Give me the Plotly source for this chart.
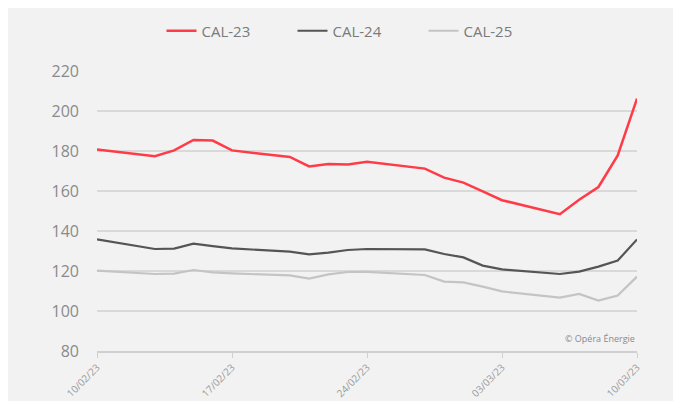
import plotly.graph_objects as go

dates = ["2023-02-10", "2023-02-13", "2023-02-14", "2023-02-15", "2023-02-16", "2023-02-17",
         "2023-02-20", "2023-02-21", "2023-02-22", "2023-02-23", "2023-02-24",
         "2023-02-27", "2023-02-28", "2023-03-01", "2023-03-02", "2023-03-03",
         "2023-03-06", "2023-03-07", "2023-03-08", "2023-03-09", "2023-03-10"]

cal23 = [180.7, 177.4, 180.3, 185.5, 185.2, 180.3,
         177.0, 172.3, 173.5, 173.3, 174.6,
         171.2, 166.7, 164.2, 159.8, 155.4,
         148.4, 155.6, 162.0, 177.8, 206.2]

cal24 = [135.8, 131.0, 131.2, 133.7, 132.4, 131.3,
         129.7, 128.3, 129.2, 130.5, 131.0,
         130.8, 128.5, 126.8, 122.7, 120.8,
         118.5, 119.7, 122.2, 125.2, 135.8]

cal25 = [120.2, 118.5, 118.7, 120.5, 119.3, 118.8,
         117.8, 116.2, 118.3, 119.5, 119.6,
         118.0, 114.7, 114.3, 112.2, 109.8,
         106.7, 108.5, 105.2, 107.7, 117.2]

tick_dates = ["2023-02-10", "2023-02-17", "2023-02-24", "2023-03-03", "2023-03-10"]
tick_text = ["10/02/23", "17/02/23", "24/02/23", "03/03/23", "10/03/23"]
y_ticks = [80, 100, 120, 140, 160, 180, 200, 220]

series = [("CAL-23", cal23, "#ff3b47", 2.5),
          ("CAL-24", cal24, "#555555", 2.2),
          ("CAL-25", cal25, "#c4c4c4", 2.2)]

fig = go.Figure()
for name, vals, color, w in series:
    fig.add_trace(go.Scatter(x=dates, y=vals, mode="lines", name=name,
                             line=dict(color=color, width=w)))

W, H = 673, 393  # page body has an 8px default margin
fig.update_layout(
    width=W, height=H,
    margin=dict(l=89, r=44, t=63, b=50),
    paper_bgcolor="#f2f2f2", plot_bgcolor="#f2f2f2",
    font=dict(family="Open Sans, sans-serif", color="#8a8a8a"),
    showlegend=True,
    legend=dict(orientation="h", xref="container", yref="container",
                x=(358 - 8) / W, xanchor="center", y=1 - 23 / H, yanchor="middle",
                font=dict(size=15, color="#7a7a7a"), itemwidth=30,
                entrywidth=86, bgcolor="rgba(0,0,0,0)"),
    xaxis=dict(type="date", range=["2023-02-10", "2023-03-10"],
               tickvals=tick_dates, ticktext=tick_text, tickangle=-45,
               tickfont=dict(size=10, color="#9a9a9a"), automargin=False,
               showgrid=False, zeroline=False,
               showline=True, linecolor="#d0d0d0", linewidth=1.5,
               ticks="outside", ticklen=5, tickcolor="#d0d0d0"),
    yaxis=dict(range=[80, 220], tickvals=y_ticks, automargin=False,
               tickfont=dict(size=16, color="#8a8a8a"),
               showgrid=True, gridcolor="#d9d9d9", gridwidth=1.5,
               zeroline=False, showline=False, ticks="", ticklabelstandoff=17),
)

fig.add_annotation(text="© Opéra Énergie", xref="paper", yref="paper",
                   x=1, y=0.045, xanchor="right", yanchor="middle",
                   showarrow=False, font=dict(size=9, color="#8a8a8a"))

fig.write_html("out.html")
